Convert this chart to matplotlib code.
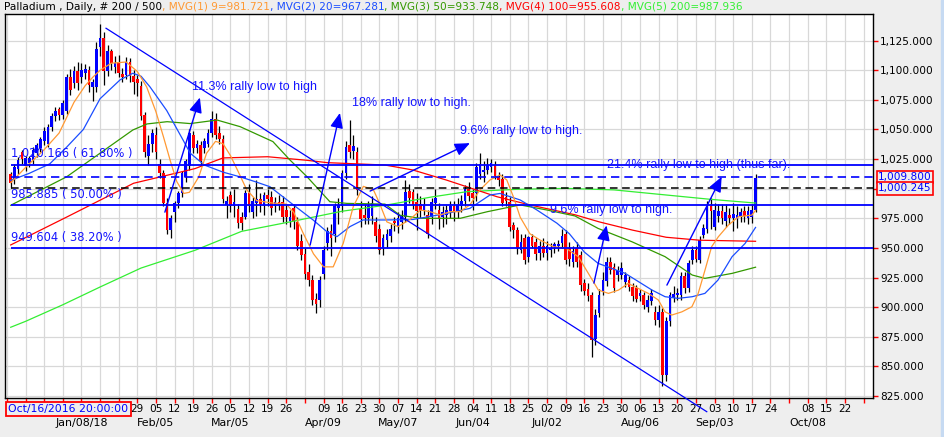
import numpy as np
import pandas as pd
import matplotlib
matplotlib.use("Agg")
import matplotlib.pyplot as plt
from matplotlib.offsetbox import TextArea, HPacker, AnchoredOffsetbox
from matplotlib.patches import Rectangle

plt.rcParams["font.family"] = "DejaVu Sans"

# business-day calendar; Monday Dec 11 2017 sits at -1, first candle (Dec 12) at 0
calendar = pd.bdate_range("2017-12-11", "2018-10-31")

opens = [
    1012, 1008, 1017, 1031, 1019, 1022, 1024, 1030, 1034, 1040,
    1038, 1052, 1061, 1067, 1062, 1066, 1094, 1089, 1099, 1094,
    1098, 1100, 1086, 1086, 1120, 1127, 1099, 1116, 1103, 1107,
    1097, 1096, 1107, 1095, 1093, 1087, 1062, 1028, 1038, 1045,
    1021, 1013, 988, 965, 980, 988, 996, 1010, 1019, 1045,
    1034, 1037, 1034, 1038, 1047, 1059, 1047, 1042, 986, 995,
    985, 983, 976, 976, 996, 980, 988, 991, 985, 995,
    993, 985, 989, 989, 982, 973, 984, 972, 956, 945,
    930, 923, 907, 906, 928, 954, 964, 962, 984, 985,
    1013, 1037, 1032, 1031, 983, 978, 975, 977, 972, 966,
    950, 957, 960, 973, 968, 972, 976, 998, 997, 989,
    987, 982, 978, 976, 988, 982, 976, 978, 981, 985,
    980, 985, 990, 1000, 996, 996, 1012, 1014, 1016, 1018,
    1020, 1010, 1008, 993, 989, 969, 965, 948, 958, 942,
    959, 955, 946, 952, 946, 948, 951, 952, 954, 962,
    950, 938, 950, 944, 920, 915, 910, 873, 895, 913,
    922, 938, 934, 927, 927, 921, 923, 917, 916, 909,
    910, 900, 905, 896, 889, 896, 843, 888, 908, 910,
    910, 926, 916, 940, 948, 940, 961, 966, 985, 968,
    977, 981, 973, 978, 975, 974, 977, 981, 975, 976,
    982]
highs = [
    1014, 1021, 1027, 1033, 1028, 1028, 1035, 1039, 1044, 1052,
    1055, 1064, 1069, 1069, 1075, 1097, 1101, 1104, 1107, 1106,
    1105, 1104, 1093, 1124, 1139, 1132, 1121, 1118, 1112, 1113,
    1102, 1111, 1110, 1100, 1096, 1091, 1065, 1045, 1050, 1052,
    1025, 1016, 992, 978, 990, 998, 1015, 1025, 1050, 1049,
    1041, 1040, 1043, 1050, 1066, 1064, 1053, 1045, 994, 998,
    1000, 987, 980, 999, 1004, 993, 1007, 996, 997, 1000,
    998, 993, 995, 994, 986, 982, 987, 976, 962, 950,
    936, 927, 912, 926, 952, 968, 970, 988, 992, 1016,
    1040, 1058, 1045, 1035, 990, 987, 990, 994, 976, 970,
    962, 966, 970, 976, 980, 982, 1007, 1004, 1000, 996,
    994, 992, 982, 992, 1000, 988, 985, 986, 990, 990,
    992, 995, 1003, 1006, 1000, 1022, 1030, 1023, 1026, 1025,
    1023, 1014, 1012, 997, 993, 972, 968, 962, 962, 960,
    962, 958, 956, 958, 956, 954, 955, 957, 966, 965,
    955, 952, 955, 947, 924, 920, 913, 898, 915, 930,
    942, 942, 937, 935, 938, 930, 926, 920, 919, 915,
    913, 910, 915, 901, 902, 899, 892, 913, 918, 916,
    930, 930, 940, 952, 952, 960, 970, 990, 992, 988,
    987, 987, 987, 984, 988, 985, 984, 985, 985, 987,
    1012]
lows = [
    1001, 1004, 1012, 1021, 1015, 1018, 1021, 1027, 1031, 1037,
    1035, 1049, 1057, 1058, 1059, 1063, 1079, 1085, 1083, 1089,
    1093, 1082, 1074, 1082, 1112, 1088, 1095, 1100, 1098, 1094,
    1090, 1093, 1090, 1080, 1078, 1058, 1027, 1020, 1031, 1025,
    1009, 985, 962, 958, 972, 984, 993, 1006, 1016, 1030,
    1030, 1019, 1030, 1035, 1044, 1042, 1038, 988, 975, 980,
    976, 967, 965, 974, 980, 975, 977, 980, 978, 985,
    978, 980, 982, 972, 970, 968, 966, 948, 940, 924,
    918, 902, 895, 900, 924, 948, 943, 955, 970, 980,
    1008, 1026, 1025, 995, 968, 970, 970, 970, 955, 945,
    944, 950, 955, 964, 963, 966, 972, 988, 983, 965,
    975, 978, 958, 970, 983, 966, 968, 970, 975, 973,
    975, 980, 985, 990, 982, 990, 1008, 1006, 1012, 1014,
    1008, 1002, 985, 985, 964, 958, 945, 946, 936, 938,
    950, 940, 940, 942, 940, 942, 946, 947, 950, 936,
    935, 934, 934, 914, 910, 905, 858, 868, 892, 910,
    918, 928, 913, 922, 924, 917, 914, 905, 904, 905,
    898, 896, 902, 885, 883, 833, 838, 884, 904, 906,
    906, 912, 913, 936, 938, 937, 958, 963, 966, 965,
    972, 970, 968, 970, 964, 967, 972, 972, 970, 971,
    980]
closes = [
    1005, 1018, 1024, 1025, 1026, 1026, 1033, 1037, 1042, 1049,
    1052, 1061, 1066, 1062, 1072, 1094, 1083, 1099, 1089, 1100,
    1101, 1088, 1090, 1118, 1127, 1099, 1116, 1106, 1106, 1098,
    1094, 1107, 1095, 1090, 1089, 1061, 1031, 1038, 1047, 1031,
    1013, 988, 965, 975, 988, 996, 1013, 1023, 1047, 1034,
    1038, 1023, 1040, 1047, 1059, 1045, 1042, 991, 990, 985,
    989, 971, 971, 996, 985, 990, 991, 987, 995, 991,
    984, 989, 986, 976, 976, 976, 973, 952, 944, 928,
    923, 906, 903, 923, 948, 964, 958, 985, 986, 1013,
    1035, 1031, 1036, 999, 974, 975, 985, 988, 960, 948,
    958, 962, 966, 971, 975, 976, 997, 992, 986, 981,
    982, 986, 962, 989, 992, 974, 980, 982, 985, 980,
    986, 990, 1000, 994, 992, 1018, 1021, 1016, 1020, 1022,
    1011, 1007, 988, 990, 968, 965, 950, 955, 940, 959,
    952, 945, 952, 946, 952, 950, 953, 953, 960, 940,
    941, 947, 938, 919, 914, 909, 872, 893, 910, 923,
    938, 931, 916, 931, 933, 927, 917, 909, 907, 912,
    902, 906, 912, 889, 896, 843, 888, 910, 911, 912,
    926, 916, 937, 948, 941, 957, 967, 985, 981, 982,
    981, 975, 980, 975, 979, 978, 980, 977, 981, 982,
    1009]

# moving averages at sample bars
ma9_bars = [0, 4, 9, 13, 17, 20, 22, 24, 27, 31, 34, 36.5, 39, 41, 43, 44.6, 46.5, 48, 50.5,
            52.6, 55, 57, 59, 61, 63.4, 66, 70, 74, 76, 78.6, 81.3, 84, 86.6, 89.3, 92, 94.7,
            97.4, 99, 101, 104, 107.2, 110, 112.6, 115.3, 118, 120.6, 123.3, 126, 128.7, 131.4,
            133.2, 135, 136.8, 139.4, 142.1, 145.7, 149, 152.4, 155.1, 157.8, 160.5, 163.2,
            165.8, 168.5, 171.2, 173.9, 175.7, 177.5, 180.2, 182.9, 184.6, 186.4, 188.2, 190,
            192.7, 195.4, 199, 200]
ma9_vals = [1005, 1018, 1033, 1047, 1073, 1087, 1094, 1100, 1106, 1107, 1099, 1086, 1065, 1044,
            1022, 1006, 996, 997, 1010, 1030, 1040, 1038, 1028, 1015, 999, 990, 988, 987, 980,
            962, 945, 934, 934, 954, 985, 1002, 999, 988, 972, 968, 974, 982, 980.6, 977.8,
            980.6, 980.6, 986.3, 999, 1007.4, 1011.6, 1007.4, 993, 976, 962, 956.7, 951, 950,
            942.6, 928.5, 914.4, 911.6, 914.4, 920, 915.8, 911.6, 906, 896, 893.3, 896, 900.3,
            911.6, 931, 951, 959.4, 969.3, 976.3, 977.7, 981.7]
ma20_bars = [0, 5, 10.5, 15, 19.5, 24, 29.4, 32.8, 35, 37.4, 41.9, 46.3, 48.2, 52, 57, 61.6,
             65.6, 69.6, 74.2, 77.7, 81.2, 84.9, 87.6, 91.1, 94.6, 100.5, 108, 117.2, 123.3,
             128.7, 131.4, 136.8, 141.3, 146.7, 150, 154, 157.7, 165, 172.2, 175.7, 179.2, 183,
             186.4, 189.9, 193.7, 197.2, 200]
ma20_vals = [1007, 1013, 1021, 1035, 1050, 1076, 1092, 1097.5, 1095, 1086, 1066, 1041, 1030,
             1020, 1014, 1010, 1006, 1001.7, 990.5, 982, 973.6, 963.7, 959.5, 968, 973.6, 973.6,
             974, 979.2, 983.4, 994.7, 996, 990.5, 982, 970.8, 962, 946.6, 937, 928.5, 914.4,
             908.8, 907.4, 908.8, 911.6, 922.8, 942.6, 953.8, 967.3]
ma50_bars = [0, 15, 24, 32.8, 36.6, 42, 48.2, 55.4, 61.6, 70.4, 75, 79.6, 85.7, 90.3, 100.5,
             104.5, 110, 120.7, 128, 136.8, 144, 151.5, 157.7, 166.8, 175.7, 183, 186.4, 193.7, 200]
ma50_vals = [986, 1010, 1030, 1049.6, 1054.7, 1056.6, 1055, 1058, 1052.4, 1039.8, 1024.2, 1010,
             989, 987.6, 987, 977.6, 975, 975, 980.6, 986.3, 982, 977, 966.5, 955.2, 942.6, 927.1,
             924.3, 928.5, 933.7]
ma100_bars = [0, 15, 33, 49.5, 57, 69, 79.5, 85, 100.5, 108, 117, 130.6, 139.4, 151.5, 158, 167,
              176, 185, 200]
ma100_vals = [952.5, 976, 1004.6, 1017, 1026, 1027, 1024, 1022, 1020, 1015.8, 1007.3, 993.2,
              986.3, 978, 972, 965, 959, 956.5, 955.6]
ma200_bars = [0, 4, 14, 24, 35, 49.5, 62, 75, 89, 100.5, 113, 122.5, 136, 149, 162, 175, 188, 200]
ma200_vals = [883, 888, 902, 917, 933, 948, 964, 972, 981, 986, 993, 997.5, 999.5, 1000.3, 999,
              995, 991, 987.9]

fib_levels = [1020.166, 985.885, 949.604]
fib_labels = ["1,020.166 ( 61.80% )", "985.885 ( 50.00% )", "949.604 ( 38.20% )"]
blue_dash_level = 1009.800
black_dash_level = 1000.245

channel_bars = [25.6, 186.9]
channel_prices = [1135.5, 811.7]

rally_texts = ["11.3% rally low to high", "18% rally low to high.", "9.6% rally low to high.",
               "9.6% rally low to high.", "21.4% rally low to high (thus far)."]
rally_text_bar = [48.7, 91.7, 120.6, 144.8, 160.1]
rally_text_price = [1085.8, 1072.4, 1048.7, 982.0, 1020.0]
arrow_from = [(41.4, 980.2), (80.4, 952.4), (96.5, 998.0), (156.6, 920.3), (176.2, 918.6)]
arrow_to = [(50.8, 1077.0), (88.4, 1064.0), (123.3, 1038.5), (160.0, 969.0), (190.9, 1010.1)]

# Monday labels not printed (hidden under the cursor box, or skipped by the chart)
skip_day_labels = ["2017-12-11", "2017-12-18", "2017-12-25", "2018-01-01", "2018-01-08",
                   "2018-01-15", "2018-01-22", "2018-04-02", "2018-10-01", "2018-10-29"]
month_dates = ["2018-01-08", "2018-02-05", "2018-03-05", "2018-04-09", "2018-05-07",
               "2018-06-04", "2018-07-02", "2018-08-06", "2018-09-03", "2018-10-08"]
month_labels = ["Jan/08/18", "Feb/05", "Mar/05", "Apr/09", "May/07",
                "Jun/04", "Jul/02", "Aug/06", "Sep/03", "Oct/08"]
price_ticks = np.arange(825, 1126, 25)
hidden_price_ticks = [1000]   # covered by the price flags

title_parts = ["Palladium , Daily, # 200 / 500", ", MVG(1) 9=981.721", ", MVG(2) 20=967.281",
               ", MVG(3) 50=933.748", ", MVG(4) 100=955.608", ", MVG(5) 200=987.936"]

BG = "#eeeeee"
BLUE = "#0000ff"
TXT_BLUE = "#1414ff"
ORANGE = "#ff9933"
MA_BLUE = "#1a4dff"
GREEN = "#339900"
RED = "#ff0000"
LGREEN = "#33ee33"


def pos_of(date):
    return calendar.get_loc(pd.Timestamp(date)) - 1


fig = plt.figure(figsize=(9.45, 4.37), dpi=100, facecolor=BG)
ax = fig.add_axes([0.00497, 0.0899, 0.9191, 0.8781])
ax.set_facecolor("white")

# candles
o, h, l, c = map(np.array, (opens, highs, lows, closes))
x = np.arange(len(c))
up = c >= o
ax.vlines(x, l, h, color="black", lw=0.9, zorder=3)
ax.bar(x, np.maximum(np.abs(c - o), 0.9), bottom=np.minimum(o, c), width=0.72,
       color=np.where(up, BLUE, RED), zorder=4)

# moving averages
ax.plot(ma200_bars, ma200_vals, color=LGREEN, lw=0.9, zorder=5)
ax.plot(ma100_bars, ma100_vals, color=RED, lw=0.9, zorder=5)
ax.plot(ma50_bars, ma50_vals, color=GREEN, lw=0.9, zorder=5)
ax.plot(ma20_bars, ma20_vals, color=MA_BLUE, lw=0.9, zorder=5)
ax.plot(ma9_bars, ma9_vals, color=ORANGE, lw=0.9, zorder=5)

xmax = 231.6
# fibonacci levels and marker lines
ax.hlines(fib_levels, 0, xmax, color=BLUE, lw=1.3, zorder=6)
ax.hlines(blue_dash_level, 0, xmax, color=BLUE, lw=1.2, linestyles=(0, (5, 3)), zorder=6)
ax.hlines(black_dash_level, 0, xmax, color="black", lw=1.1, linestyles=(0, (5, 3)), zorder=6)
for lvl, lab in zip(fib_levels, fib_labels):
    ax.annotate(lab, xy=(0, lvl), xytext=(0, 8), textcoords="offset points",
                ha="left", va="center", fontsize=8.3, color=TXT_BLUE, zorder=9)

# channel line
ax.plot(channel_bars, channel_prices, color=BLUE, lw=0.9, zorder=6, clip_on=False)

# rally arrows and notes
for t, tb, tp in zip(rally_texts, rally_text_bar, rally_text_price):
    ax.text(tb, tp, t, ha="left", va="center", fontsize=9, color=TXT_BLUE,
            family="Liberation Sans", zorder=9)
for a, b in zip(arrow_from, arrow_to):
    ax.annotate("", xy=b, xytext=a,
                arrowprops=dict(arrowstyle="-|>,head_length=0.65,head_width=0.28",
                                color=BLUE, lw=1.0, mutation_scale=14,
                                shrinkA=0, shrinkB=0), zorder=8)

# axes limits and ticks
ax.set_xlim(-1.61, xmax)
ax.set_ylim(823.5, 1147.55)
ax.yaxis.tick_right()
ax.set_yticks(price_ticks)
ax.set_yticklabels(["" if v in hidden_price_ticks else f"{v:,.3f}" for v in price_ticks])
mondays = [d for d in calendar if d.weekday() == 0]
ax.set_xticks([pos_of(d) for d in mondays])
ax.set_xticklabels(["" if d.strftime("%Y-%m-%d") in skip_day_labels else d.strftime("%d")
                    for d in mondays])
ax.tick_params(axis="both", color=RED, labelcolor="black", labelsize=7.6, length=3.5, width=1)
ax.tick_params(axis="x", pad=1)
ax.tick_params(axis="y", pad=1.5)
for d, s in zip(month_dates, month_labels):
    ax.annotate(s, xy=(pos_of(d), 0), xycoords=("data", "axes fraction"), xytext=(0, -18.3),
                textcoords="offset points", ha="center", va="center", fontsize=7.9,
                annotation_clip=False)

ax.grid(True, color="#d8d8d8", lw=0.9)
ax.set_axisbelow(True)
for sp in ax.spines.values():
    sp.set_color("black")
    sp.set_linewidth(1)

# price flags on the right axis
for lvl in (blue_dash_level, black_dash_level):
    ax.annotate(f"{lvl:,.3f}", xy=(1, lvl), xycoords=("axes fraction", "data"), xytext=(3.5, 0),
                textcoords="offset points", ha="left", va="center", fontsize=7.6, color=BLUE,
                bbox=dict(boxstyle="square,pad=0.12", fc=BG, ec=RED, lw=1.2),
                annotation_clip=False, zorder=10)

# title with coloured MA values
colors = ["black", ORANGE, MA_BLUE, GREEN, RED, LGREEN]
pack = HPacker(children=[TextArea(s, textprops=dict(color=col, size=7.6)) for s, col in zip(title_parts, colors)],
               sep=0, pad=0, align="baseline")
fig.add_artist(AnchoredOffsetbox(loc="center left", child=pack, pad=0, borderpad=0, frameon=False,
                                 bbox_to_anchor=(0.004, 0.985), bbox_transform=fig.transFigure))

# cursor date box
fig.text(0.0085, 0.064, "Oct/16/2016 20:00:00", color=BLUE, fontsize=7.8, va="center", ha="left",
         bbox=dict(boxstyle="square,pad=0.22", fc=BG, ec=RED, lw=1.3), zorder=10)

fig.add_artist(Rectangle((0.9958, 0), 0.0042, 1, transform=fig.transFigure, color="#c6daf2"))

fig.savefig("out.png", dpi=100, facecolor=BG)
